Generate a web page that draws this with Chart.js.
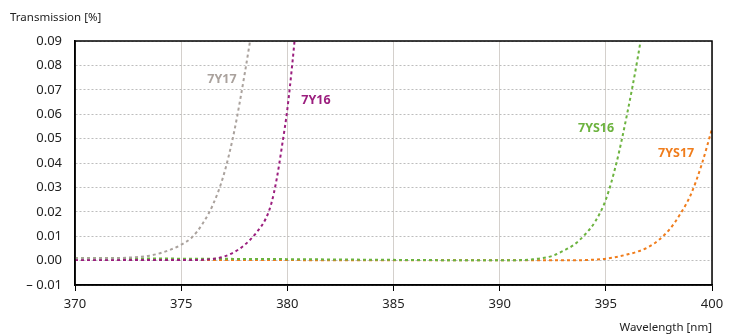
<!DOCTYPE html>
<html><head><meta charset="utf-8">
<script src="https://cdn.jsdelivr.net/npm/chart.js@4/dist/chart.umd.min.js"></script>
<style>html,body{margin:0;padding:0;background:#fff}#wrap{width:756px;height:335px}</style>
</head><body><div id="wrap"><canvas id="c" width="756" height="335"></canvas></div>
<script>
const yTitle = 'Transmission [%]';
const xTitle = 'Wavelength [nm]';
const xTicks = [370, 375, 380, 385, 390, 395, 400];
const yMin = -0.01, yMax = 0.09, yStep = 0.01;

const wl7Y17 = [370, 371, 372, 372.5, 373, 373.5, 374, 374.5, 375, 375.5, 376, 376.5, 377, 377.5, 378, 378.5];
const val7Y17 = [0.001, 0.001, 0.001, 0.0012, 0.0015, 0.002, 0.003, 0.0045, 0.0065, 0.0095, 0.015, 0.023, 0.035, 0.053, 0.077, 0.104];

const wl7Y16 = [370, 372, 374, 376, 376.5, 377, 377.5, 378, 378.5, 379, 379.25, 379.5, 379.75, 380, 380.25, 380.5];
const val7Y16 = [0.0002, 0.0002, 0.0002, 0.0003, 0.0007, 0.0016, 0.0035, 0.0065, 0.011, 0.0175, 0.0235, 0.0335, 0.047, 0.062, 0.082, 0.105];

const wl7YS16 = [370, 375, 380, 385, 390, 391, 391.5, 392, 392.5, 393, 393.5, 394, 394.5, 395, 395.5, 396, 396.5, 397];
const val7YS16 = [0.001, 0.0008, 0.0006, 0.0003, 0.0001, 0.0002, 0.0005, 0.001, 0.002, 0.004, 0.0065, 0.0105, 0.016, 0.025, 0.040, 0.060, 0.083, 0.11];

const wl7YS17 = [370, 375, 380, 385, 390, 393, 394, 394.5, 395, 395.5, 396, 396.5, 397, 397.5, 398, 398.5, 399, 399.5, 400];
const val7YS17 = [0.0002, 0.0002, 0.0002, 0.0001, 0.0001, 0.0001, 0.0002, 0.0004, 0.0008, 0.0015, 0.0025, 0.0037, 0.0055, 0.0085, 0.0128, 0.019, 0.027, 0.039, 0.054];

const seriesNames = ['7Y17', '7Y16', '7YS16', '7YS17'];
const seriesColors = ['#aaa29d', '#9b1e7e', '#6cb33f', '#f07d1c'];
const labelX = [376.92, 381.35, 394.54, 398.31];
const labelY = [0.0744, 0.0658, 0.0543, 0.0441];

const wls = [wl7Y17, wl7Y16, wl7YS16, wl7YS17];
const vals = [val7Y17, val7Y16, val7YS16, val7YS17];

const FONT = "'Noto Sans', 'Open Sans', sans-serif";

const datasets = seriesNames.map((n, i) => ({
  label: n,
  data: wls[i].map((x, k) => ({x: x, y: vals[i][k]})),
  borderColor: seriesColors[i],
  backgroundColor: seriesColors[i],
  borderWidth: 2,
  borderDash: [3, 3],
  pointRadius: 0,
  cubicInterpolationMode: 'monotone',
  fill: false
}));

const decor = {
  id: 'decor',
  afterDatasetsDraw(chart) {
    const {ctx, chartArea: a, scales: {x, y}} = chart;
    ctx.save();
    ctx.strokeStyle = '#000';
    ctx.lineWidth = 1.5;
    ctx.strokeRect(a.left, a.top, a.right - a.left, a.bottom - a.top);
    ctx.font = 'bold 12.5px ' + FONT;
    ctx.textAlign = 'center';
    ctx.textBaseline = 'middle';
    seriesNames.forEach((n, i) => {
      ctx.fillStyle = seriesColors[i];
      ctx.fillText(n, x.getPixelForValue(labelX[i]), y.getPixelForValue(labelY[i]));
    });
    ctx.fillStyle = '#222';
    ctx.font = '11.5px ' + FONT;
    ctx.textAlign = 'left';
    ctx.fillText(yTitle, 10, 18);
    ctx.restore();
  }
};

new Chart(document.getElementById('c'), {
  type: 'line',
  data: {datasets},
  options: {
    responsive: false,
    animation: false,
    layout: {padding: {left: 0, right: 44, top: 41, bottom: 0}},
    plugins: {legend: {display: false}, tooltip: {enabled: false}},
    scales: {
      x: {
        type: 'linear', min: 370, max: 400,
        afterBuildTicks: s => { s.ticks = xTicks.map(v => ({value: v})); },
        afterFit: s => { s.height = 50; },
        grid: {color: '#d4d0cc', lineWidth: 1, tickLength: 6, tickColor: '#000'},
        border: {color: '#000', width: 1.5},
        ticks: {color: '#222', font: {family: FONT, size: 13}, padding: 5, maxRotation: 0},
        title: {display: true, text: xTitle, align: 'end', color: '#222', font: {family: FONT, size: 11.5}, padding: {top: 1, bottom: 0}}
      },
      y: {
        min: yMin, max: yMax,
        afterFit: s => { s.width = 75; },
        ticks: {
          stepSize: yStep, color: '#222', font: {family: FONT, size: 13}, padding: 13,
          callback: v => { const t = Math.abs(v).toFixed(2); return v < -1e-9 ? '\u2013 ' + t : t; }
        },
        grid: {color: '#bdbdbd', lineWidth: 1, drawTicks: false},
        border: {color: '#000', width: 1.5, dash: [2, 2]}
      }
    }
  },
  plugins: [decor]
});
</script></body></html>
